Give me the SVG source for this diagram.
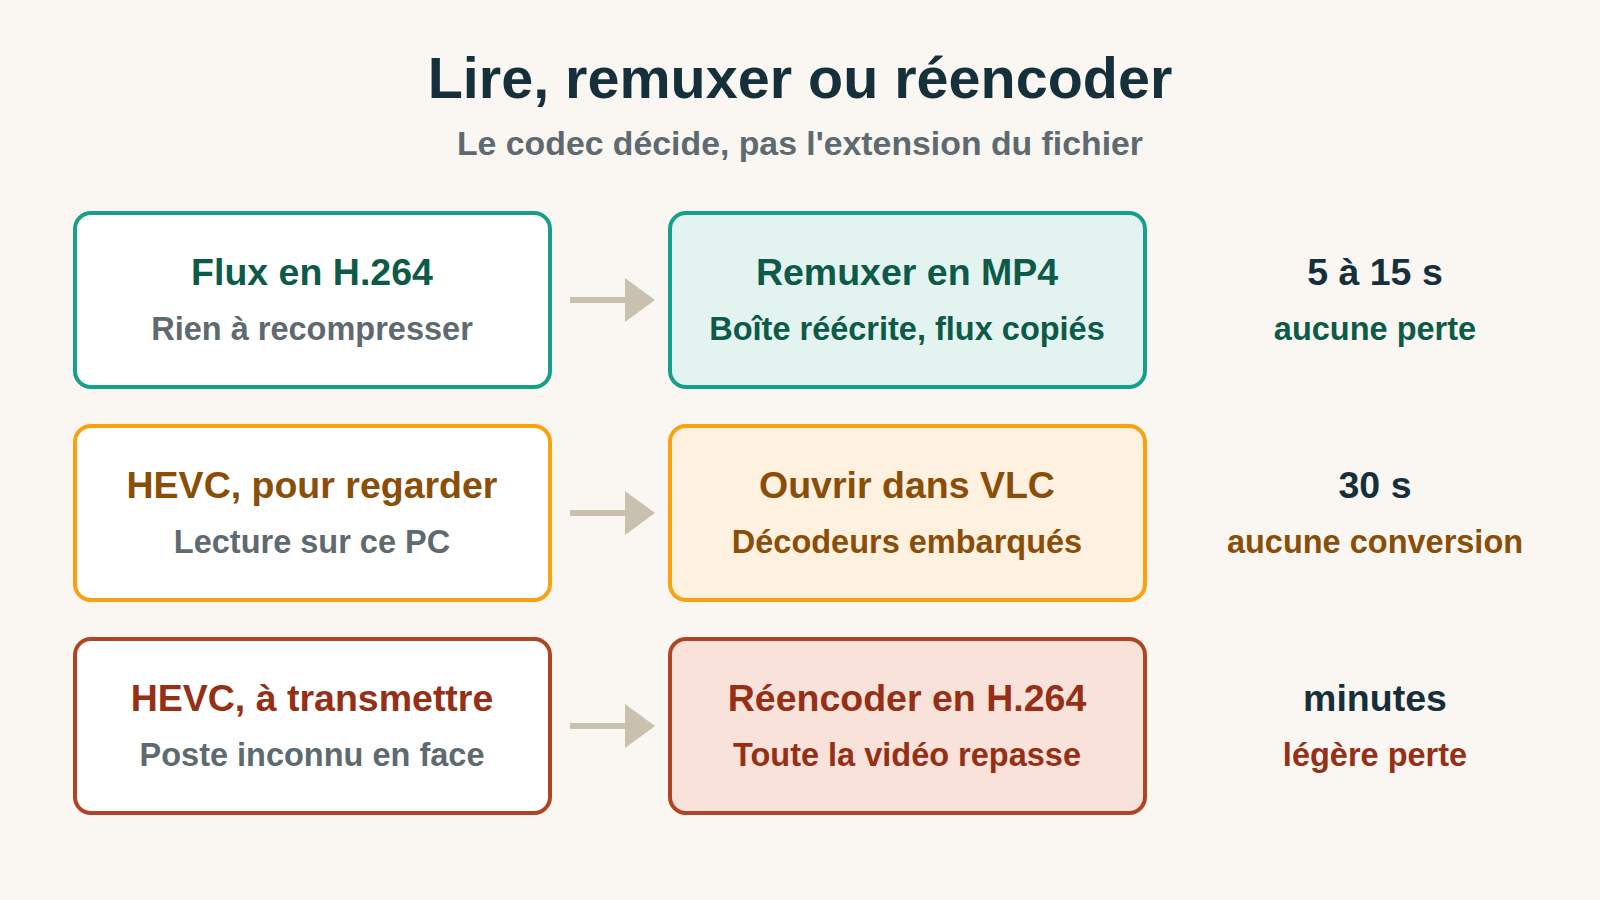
<svg xmlns="http://www.w3.org/2000/svg" width="1600" height="900" viewBox="0 0 1600 900">
<defs>
<style>
text{font-family:"Liberation Sans",Arial,sans-serif;font-weight:bold;text-anchor:middle}
.title{font-size:57.5px;fill:#15303b}
.sub{font-size:33.8px;fill:#5e6a70}
.box{stroke-width:4}
.h{font-size:37.5px}
.s{font-size:32.5px}
.gray{fill:#5e6a70}
.dark{fill:#15303b}
.teal{stroke:#16a08a}
.orange{stroke:#f9a10f}
.red{stroke:#b04425}
.tt{fill:#0d5a49}
.ot{fill:#8a4e08}
.rt{fill:#952f15}
.arr{stroke:#c9c1af;stroke-width:6;fill:none}
.head{fill:#c9c1af}
</style>
</defs>
<rect width="1600" height="900" fill="#faf7f2"/>
<text class="title" x="800" y="98">Lire, remuxer ou réencoder</text>
<text class="sub" x="800" y="155">Le codec décide, pas l'extension du fichier</text>

<g id="n1">
<rect class="box teal" x="75" y="213" width="475" height="174" rx="16" fill="#ffffff"/>
<text class="h tt" x="312" y="285">Flux en H.264</text>
<text class="s gray" x="312" y="340">Rien à recompresser</text>
</g>
<g id="n2">
<rect class="box teal" x="670" y="213" width="475" height="174" rx="16" fill="#e3f4f0"/>
<text class="h tt" x="907" y="285">Remuxer en MP4</text>
<text class="s tt" x="907" y="340">Boîte réécrite, flux copiés</text>
</g>
<g id="n3">
<text class="h dark" x="1375" y="285">5 à 15 s</text>
<text class="s tt" x="1375" y="340">aucune perte</text>
</g>

<g id="n4">
<rect class="box orange" x="75" y="426" width="475" height="174" rx="16" fill="#ffffff"/>
<text class="h ot" x="312" y="498">HEVC, pour regarder</text>
<text class="s gray" x="312" y="553">Lecture sur ce PC</text>
</g>
<g id="n5">
<rect class="box orange" x="670" y="426" width="475" height="174" rx="16" fill="#fef1df"/>
<text class="h ot" x="907" y="498">Ouvrir dans VLC</text>
<text class="s ot" x="907" y="553">Décodeurs embarqués</text>
</g>
<g id="n6">
<text class="h dark" x="1375" y="498">30 s</text>
<text class="s ot" x="1375" y="553">aucune conversion</text>
</g>

<g id="n7">
<rect class="box red" x="75" y="639" width="475" height="174" rx="16" fill="#ffffff"/>
<text class="h rt" x="312" y="711">HEVC, à transmettre</text>
<text class="s gray" x="312" y="766">Poste inconnu en face</text>
</g>
<g id="n8">
<rect class="box red" x="670" y="639" width="475" height="174" rx="16" fill="#f8e2da"/>
<text class="h rt" x="907" y="711">Réencoder en H.264</text>
<text class="s rt" x="907" y="766">Toute la vidéo repasse</text>
</g>
<g id="n9">
<text class="h dark" x="1375" y="711">minutes</text>
<text class="s rt" x="1375" y="766">légère perte</text>
</g>

<g id="connectors">
<line class="arr" x1="570" y1="300" x2="627" y2="300"/>
<polygon class="head" points="625,278 655,300 625,322"/>
<line class="arr" x1="570" y1="513" x2="627" y2="513"/>
<polygon class="head" points="625,491 655,513 625,535"/>
<line class="arr" x1="570" y1="726" x2="627" y2="726"/>
<polygon class="head" points="625,704 655,726 625,748"/>
</g>
</svg>
